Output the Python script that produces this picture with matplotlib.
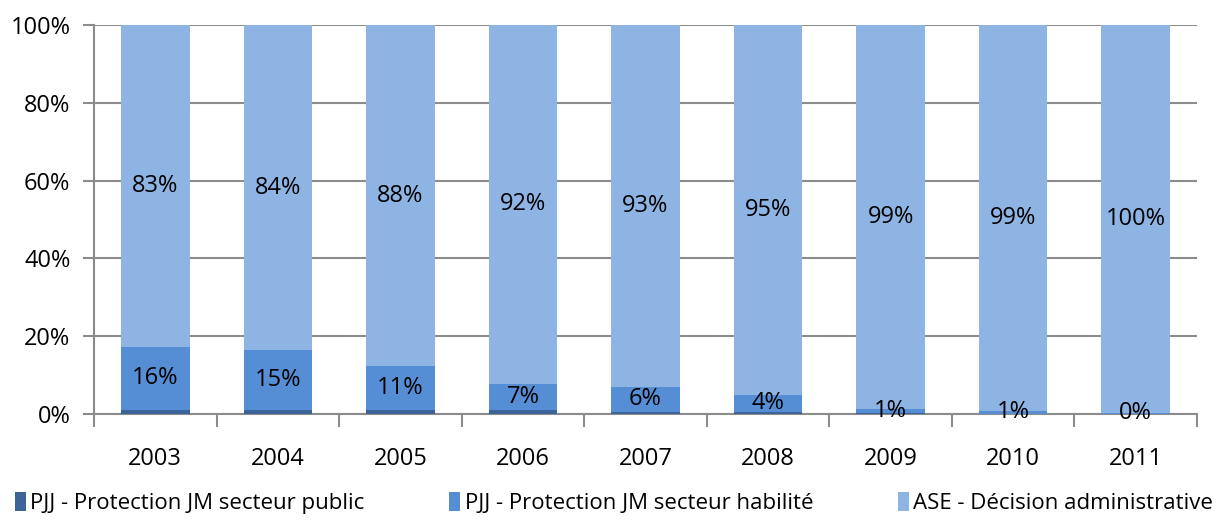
import matplotlib
matplotlib.use("Agg")
import matplotlib.pyplot as plt
import numpy as np
from matplotlib.patches import Patch

years = ["2003", "2004", "2005", "2006", "2007", "2008", "2009", "2010", "2011"]
pjj_public = [1.1, 1.1, 1.0, 0.9, 0.6, 0.6, 0.2, 0.1, 0.0]
pjj_habilite = [16.2, 15.3, 11.3, 6.9, 6.3, 4.2, 1.1, 0.6, 0.3]
ase = [82.7, 83.6, 87.7, 92.2, 93.1, 95.2, 98.7, 99.3, 99.7]
labels_hab = ["16%", "15%", "11%", "7%", "6%", "4%", "1%", "1%", "0%"]
labels_ase = ["83%", "84%", "88%", "92%", "93%", "95%", "99%", "99%", "100%"]
series_names = ["PJJ - Protection JM secteur public",
                "PJJ - Protection JM secteur habilité",
                "ASE - Décision administrative"]

c_pub = "#3C6499"
c_hab = "#558ED5"
c_ase = "#8EB4E3"
grid_c = "#8C8C8C"

plt.rcParams['font.family'] = ['Open Sans', 'DejaVu Sans']
FS = 17

fig = plt.figure(figsize=(12.28, 5.21), dpi=100)
ax = fig.add_axes([94/1228, 1 - 414/521, (1197-94)/1228, (414-25)/521])

x = np.arange(len(years))
w = 0.56
pub = np.array(pjj_public)
hab = np.array(pjj_habilite)
a = np.array(ase)
ax.bar(x, pub, w, color=c_pub, zorder=3)
ax.bar(x, hab, w, bottom=pub, color=c_hab, zorder=3)
ax.bar(x, a, w, bottom=pub + hab, color=c_ase, zorder=3)

for i in range(len(years)):
    ax.text(x[i], pub[i] + hab[i] / 2, labels_hab[i], ha="center", va="center",
            fontsize=FS, color="black", zorder=5)
    ax.text(x[i], pub[i] + hab[i] + a[i] / 2, labels_ase[i], ha="center", va="center",
            fontsize=FS, color="black", zorder=5)

ax.set_xlim(-0.5, len(years) - 0.5)
ax.set_ylim(0, 100)
ax.set_yticks(np.arange(0, 101, 20))
ax.set_yticklabels([f"{v}%" for v in range(0, 101, 20)], fontsize=FS)
ax.yaxis.grid(True, color=grid_c, linewidth=1.5, zorder=0)
ax.set_axisbelow(True)

ax.set_xticks(x)
ax.set_xticklabels(years, fontsize=FS)
ax.set_xticks(np.arange(-0.5, len(years), 1), minor=True)
ax.tick_params(axis="x", which="major", length=0, pad=24)
ax.tick_params(axis="x", which="minor", length=9, width=1.5, color=grid_c)
ax.tick_params(axis="y", length=8, width=1.5, color=grid_c, pad=9)

for s in ["top", "right"]:
    ax.spines[s].set_visible(False)
for s in ["left", "bottom"]:
    ax.spines[s].set_color(grid_c)
    ax.spines[s].set_linewidth(1.5)

handles = [Patch(facecolor=c, edgecolor="none") for c in (c_pub, c_hab, c_ase)]
fig.legend(handles, series_names, loc="lower center", ncol=3, frameon=False,
           fontsize=16, bbox_to_anchor=(0.5, -0.025), handlelength=0.5, handleheight=0.9,
           handletextpad=0.2, columnspacing=3.8)

fig.savefig("out.png", dpi=100)
